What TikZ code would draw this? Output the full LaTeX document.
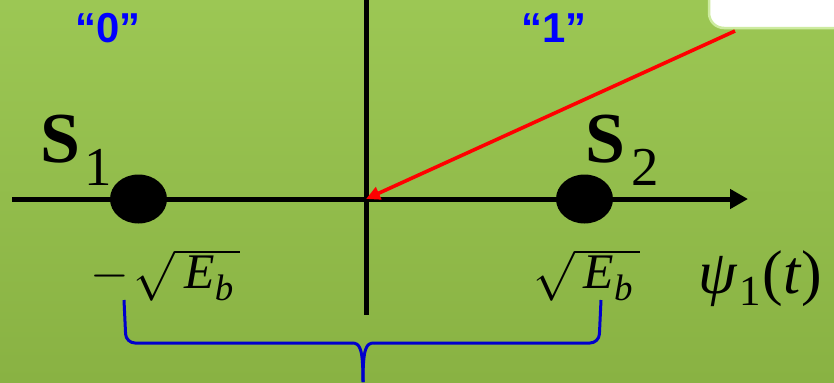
\RequirePackage{fix-cm}
\documentclass[tikz,border=0pt]{standalone}
\usepackage{exscale}
\usepackage{fontspec}
\setmainfont{Liberation Serif}
\newfontfamily\labelsans{Liberation Sans}
\definecolor{bgtop}{RGB}{156,199,84}
\definecolor{bgbot}{RGB}{137,178,67}
\definecolor{boxedge}{RGB}{205,235,160}
\definecolor{bracecol}{RGB}{0,0,205}
\newcommand{\ebit}{\mbox{\textit{E}\raisebox{-12bp}{\fontsize{37}{37}\selectfont\textit{b}}}}
\tikzset{
  bitlabel/.style={font=\labelsans\bfseries\fontsize{42}{42}\selectfont,text=blue,inner sep=0pt},
  symlabel/.style={inner sep=0pt,anchor=base west,font=\fontsize{72}{72}\selectfont},
  ampl/.style={inner sep=0pt,anchor=base west,font=\fontsize{50}{50}\selectfont},
  sigpoint/.style={ellipse,fill=black,minimum width=57bp,minimum height=49bp,inner sep=0pt}
}
\usetikzlibrary{shapes.geometric,arrows.meta}
\begin{document}
\begin{tikzpicture}[x=1bp,y=-1bp]
% BPSK signal space: one basis function, two points
\useasboundingbox (0,0) rectangle (834,382);
\fill[top color=bgtop,bottom color=bgbot] (0,0) rectangle (834,382);
\node[draw=boxedge,line width=2.5bp,fill=white,rounded corners=15bp,minimum width=160bp,minimum height=56bp] (tipbox) at (789,0) {};
\coordinate (axl) at (12,199);
\coordinate (axr) at (748,199);
\coordinate (vtop) at (366,-2);
\coordinate (vbot) at (366,315);
\coordinate (origin) at (366,199);
\coordinate (redstart) at (735,31);
\draw[line width=5bp,-{Triangle[length=18bp,width=19bp]}] (axl) -- (axr);
\draw[line width=5bp] (vtop) -- (vbot);
\draw[red,line width=3.6bp,-{Triangle[length=14bp,width=13bp]}] (redstart) -- (origin);
\node[sigpoint] (s1) at (138.5,199) {};
\node[sigpoint] (s2) at (584.5,199) {};
\node[bitlabel] (zero) at (108,28) {“0”};
\node[bitlabel] (one) at (554,28) {“1”};
\node[symlabel] (s1lab) at (40,162) {\textbf{S}\kern4bp\raisebox{-23bp}{\fontsize{55}{55}\selectfont 1}};
\node[symlabel] (s2lab) at (585,162) {\textbf{S}\kern6bp\raisebox{-23bp}{\fontsize{55}{55}\selectfont 2}};
\node[ampl] (negamp) at (90,288) {$-\kern5bp\sqrt{\kern9bp\ebit\kern7bp}$};
\node[ampl] (posamp) at (533,288) {$\sqrt{\kern9bp\ebit\kern7bp}$};
\node[inner sep=0pt,anchor=base west,font=\fontsize{62}{62}\selectfont] (psi) at (698,293) {\textit{ψ}\kern2bp\raisebox{-12bp}{\fontsize{43}{43}\selectfont 1}\kern2bp(\textit{t})};
\coordinate (bl) at (124,300);
\coordinate (br) at (601,300);
\coordinate (btip) at (363,382);
\draw[bracecol,line width=3bp,rounded corners=9bp] (bl) -- (126,343) -- (352,343);
\draw[bracecol,line width=3bp,rounded corners=9bp] (br) -- (599,343) -- (374,343);
\draw[bracecol,line width=3bp] (352,343) .. controls (360,343) and (363,348) .. (btip);
\draw[bracecol,line width=3bp] (374,343) .. controls (366,343) and (363,348) .. (btip);
\end{tikzpicture}
\end{document}
